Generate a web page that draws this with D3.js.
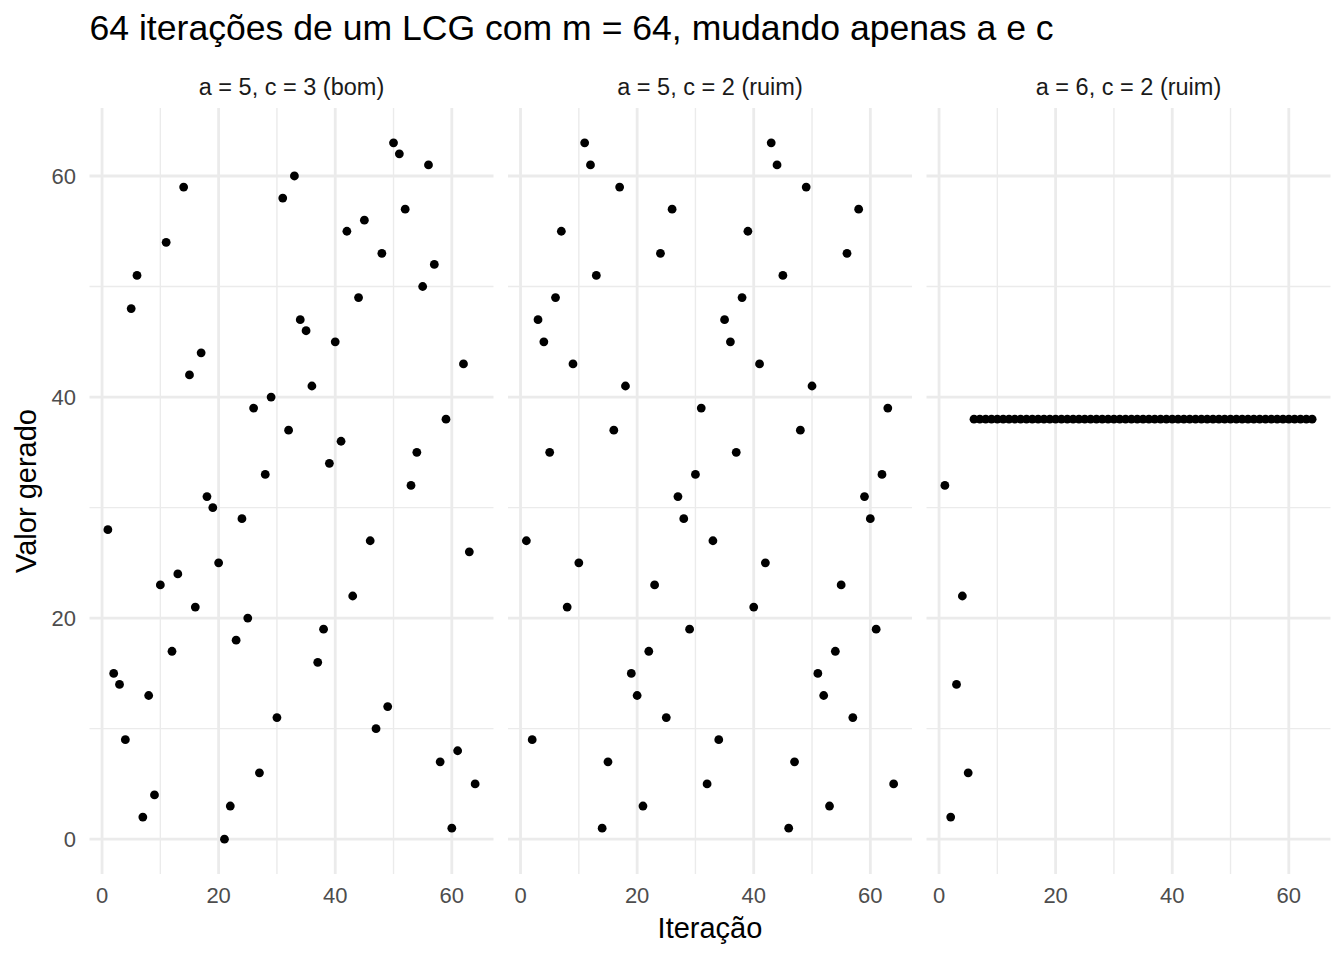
<!DOCTYPE html>
<html>
<head>
<meta charset="utf-8">
<script src="https://cdn.jsdelivr.net/npm/d3@7"></script>
<style>
  body { margin: 0; background: #fff; }
  text { font-family: "Liberation Sans", Arial, sans-serif; }
</style>
</head>
<body>
<svg id="chart" width="1344" height="960"></svg>
<script>
// valores (iteracao 1..64)
var panelTitles = ["a = 5, c = 3 (bom)", "a = 5, c = 2 (ruim)", "a = 6, c = 2 (ruim)"];
var valoresBom = [28, 15, 14, 9, 48, 51, 2, 13, 4, 23, 54, 17, 24, 59, 42, 21,
                  44, 31, 30, 25, 0, 3, 18, 29, 20, 39, 6, 33, 40, 11, 58, 37,
                  60, 47, 46, 41, 16, 19, 34, 45, 36, 55, 22, 49, 56, 27, 10, 53,
                  12, 63, 62, 57, 32, 35, 50, 61, 52, 7, 38, 1, 8, 43, 26, 5];
var valoresRuim1 = [27, 9, 47, 45, 35, 49, 55, 21, 43, 25, 63, 61, 51, 1, 7, 37,
                    59, 41, 15, 13, 3, 17, 23, 53, 11, 57, 31, 29, 19, 33, 39, 5,
                    27, 9, 47, 45, 35, 49, 55, 21, 43, 25, 63, 61, 51, 1, 7, 37,
                    59, 41, 15, 13, 3, 17, 23, 53, 11, 57, 31, 29, 19, 33, 39, 5];
var valoresRuim2 = [32, 2, 14, 22, 6, 38, 38, 38, 38, 38, 38, 38, 38, 38, 38, 38,
                    38, 38, 38, 38, 38, 38, 38, 38, 38, 38, 38, 38, 38, 38, 38, 38,
                    38, 38, 38, 38, 38, 38, 38, 38, 38, 38, 38, 38, 38, 38, 38, 38,
                    38, 38, 38, 38, 38, 38, 38, 38, 38, 38, 38, 38, 38, 38, 38, 38];
var xTicks = [0, 20, 40, 60];
var xMinor = [10, 30, 50];
var yTicks = [0, 20, 40, 60];
var yMinor = [10, 30, 50];

var series = [valoresBom, valoresRuim1, valoresRuim2];

var svg = d3.select("#chart");
var panelLeft = 89.5, panelW = 404, panelGap = 14.5;
var panelTop = 108, panelBottom = 874;

var x = d3.scaleLinear().domain([-2.15, 67.15]).range([0, panelW]);
var y = d3.scaleLinear().domain([-3.15, 66.15]).range([panelBottom, panelTop]);

// titulo
svg.append("text")
    .attr("x", panelLeft)
    .attr("y", 40)
    .attr("font-size", 35.6)
    .attr("fill", "#000")
    .text("64 iterações de um LCG com m = 64, mudando apenas a e c");

series.forEach(function (vals, p) {
    var g = svg.append("g")
        .attr("transform", "translate(" + (panelLeft + p * (panelW + panelGap)) + ",0)");

    // grade menor
    g.selectAll(".vminor").data(xMinor).enter().append("line")
        .attr("x1", x).attr("x2", x)
        .attr("y1", panelTop).attr("y2", panelBottom)
        .attr("stroke", "#ebebeb").attr("stroke-width", 1.4);
    g.selectAll(".hminor").data(yMinor).enter().append("line")
        .attr("x1", 0).attr("x2", panelW)
        .attr("y1", y).attr("y2", y)
        .attr("stroke", "#ebebeb").attr("stroke-width", 1.4);
    // grade maior
    g.selectAll(".vmajor").data(xTicks).enter().append("line")
        .attr("x1", x).attr("x2", x)
        .attr("y1", panelTop).attr("y2", panelBottom)
        .attr("stroke", "#ebebeb").attr("stroke-width", 2.8);
    g.selectAll(".hmajor").data(yTicks).enter().append("line")
        .attr("x1", 0).attr("x2", panelW)
        .attr("y1", y).attr("y2", y)
        .attr("stroke", "#ebebeb").attr("stroke-width", 2.8);

    // rotulo do painel
    g.append("text")
        .attr("x", panelW / 2)
        .attr("y", 95)
        .attr("text-anchor", "middle")
        .attr("font-size", 23.5)
        .attr("fill", "#1a1a1a")
        .text(panelTitles[p]);

    // eixo x
    g.selectAll(".xlab").data(xTicks).enter().append("text")
        .attr("x", x)
        .attr("y", 903)
        .attr("text-anchor", "middle")
        .attr("font-size", 22)
        .attr("fill", "#4d4d4d")
        .text(function (d) { return d; });

    // pontos
    g.selectAll(".pt").data(vals).enter().append("circle")
        .attr("cx", function (d, i) { return x(i + 1); })
        .attr("cy", function (d) { return y(d); })
        .attr("r", 4.4)
        .attr("fill", "#000");
});

// eixo y
svg.selectAll(".ylab").data(yTicks).enter().append("text")
    .attr("x", 76)
    .attr("y", function (d) { return y(d) + 8; })
    .attr("text-anchor", "end")
    .attr("font-size", 22)
    .attr("fill", "#4d4d4d")
    .text(function (d) { return d; });

svg.append("text")
    .attr("x", 710)
    .attr("y", 938)
    .attr("text-anchor", "middle")
    .attr("font-size", 29)
    .attr("fill", "#000")
    .text("Iteração");

svg.append("text")
    .attr("transform", "translate(36," + ((panelTop + panelBottom) / 2) + ") rotate(-90)")
    .attr("text-anchor", "middle")
    .attr("font-size", 29)
    .attr("fill", "#000")
    .text("Valor gerado");
</script>
</body>
</html>
